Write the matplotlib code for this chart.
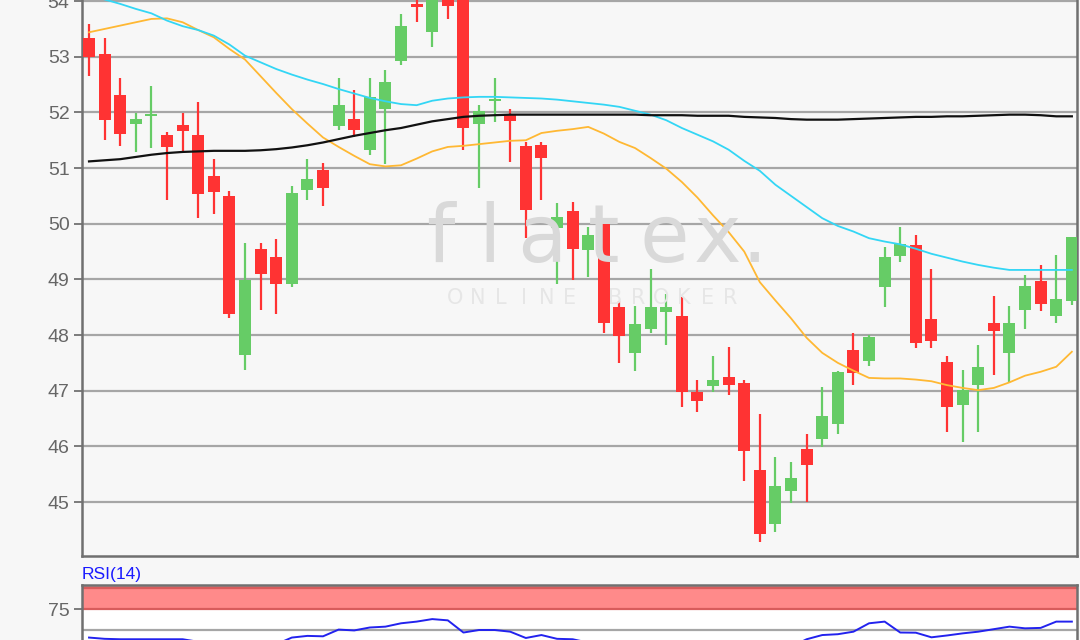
import matplotlib
matplotlib.use("Agg")
import matplotlib.pyplot as plt
import numpy as np

opens = [53.34, 53.05, 52.32, 51.80, 51.94, 51.60, 51.78, 51.60, 50.85, 50.49,
         47.65, 49.55, 49.41, 48.92, 50.61, 50.96, 51.76, 51.89, 51.33, 52.06,
         52.92, 53.95, 53.45, 54.05, 54.40, 51.80, 52.20, 51.98, 51.39, 51.42,
         49.92, 50.23, 49.52, 49.99, 48.50, 47.68, 48.11, 48.41, 48.35, 46.97,
         47.08, 47.24, 47.14, 45.57, 44.61, 45.20, 45.95, 46.13, 46.40, 47.74,
         47.54, 48.87, 49.42, 49.61, 48.28, 47.52, 46.75, 47.11, 48.21, 47.68,
         48.45, 48.97, 48.34, 48.62]
highs = [53.59, 53.34, 52.62, 51.99, 52.47, 51.65, 51.99, 52.18, 51.17, 50.59,
         49.65, 49.65, 49.73, 50.67, 51.17, 51.10, 52.61, 52.40, 52.61, 52.76,
         53.77, 54.10, 54.50, 54.30, 54.60, 52.14, 52.61, 52.07, 51.47, 51.46,
         50.38, 50.39, 49.94, 50.05, 48.61, 48.53, 49.18, 48.74, 48.68, 47.20,
         47.63, 47.78, 47.20, 46.59, 45.80, 45.72, 46.22, 47.06, 47.36, 48.03,
         48.00, 49.58, 49.94, 49.80, 49.18, 47.63, 47.38, 47.82, 48.71, 48.53,
         49.08, 49.26, 49.44, 49.76]
lows = [52.65, 51.50, 51.39, 51.29, 51.36, 50.43, 51.27, 50.10, 50.18, 48.30,
        47.37, 48.45, 48.38, 48.87, 50.43, 50.32, 51.69, 51.56, 51.23, 51.08,
        52.85, 53.63, 53.17, 53.67, 51.32, 50.64, 51.83, 51.11, 49.74, 50.43,
        48.92, 48.99, 49.05, 48.04, 47.50, 47.36, 48.04, 47.83, 46.70, 46.62,
        46.98, 46.92, 45.38, 44.29, 44.47, 44.98, 45.00, 45.98, 46.22, 47.11,
        47.44, 48.51, 49.31, 47.76, 47.76, 46.26, 46.08, 46.26, 47.29, 47.14,
        48.11, 48.44, 48.22, 48.54]
closes = [52.99, 51.87, 51.61, 51.89, 51.98, 51.37, 51.66, 50.54, 50.57, 48.38,
          48.99, 49.10, 48.92, 50.55, 50.81, 50.65, 52.14, 51.69, 52.28, 52.54,
          53.55, 53.89, 54.30, 53.92, 51.72, 52.02, 52.25, 51.85, 50.25, 51.19,
          50.12, 49.55, 49.80, 48.22, 47.98, 48.20, 48.50, 48.50, 46.97, 46.82,
          47.20, 47.11, 45.92, 44.43, 45.29, 45.44, 45.66, 46.55, 47.34, 47.32,
          47.97, 49.40, 49.64, 47.86, 47.90, 46.71, 47.02, 47.43, 48.08, 48.21,
          48.89, 48.55, 48.64, 49.76]

ma_orange = [53.44, 53.50, 53.56, 53.62, 53.68, 53.69, 53.62, 53.48, 53.35, 53.14,
             52.95, 52.65, 52.35, 52.06, 51.80, 51.55, 51.38, 51.22, 51.07, 51.03,
             51.05, 51.17, 51.30, 51.38, 51.40, 51.43, 51.46, 51.49, 51.50, 51.63,
             51.67, 51.70, 51.74, 51.62, 51.47, 51.36, 51.18, 50.99, 50.75, 50.47,
             50.15, 49.85, 49.50, 48.95, 48.62, 48.30, 47.95, 47.68, 47.50, 47.36,
             47.23, 47.22, 47.22, 47.20, 47.17, 47.10, 47.05, 47.01, 47.05, 47.15,
             47.27, 47.34, 47.43, 47.70]
ma_cyan = [54.12, 54.03, 53.95, 53.86, 53.78, 53.65, 53.55, 53.48, 53.38, 53.22,
           53.02, 52.90, 52.78, 52.68, 52.59, 52.51, 52.42, 52.34, 52.26, 52.20,
           52.15, 52.13, 52.21, 52.25, 52.27, 52.28, 52.28, 52.27, 52.26, 52.25,
           52.23, 52.20, 52.17, 52.14, 52.10, 52.03, 51.96, 51.86, 51.72, 51.60,
           51.48, 51.33, 51.13, 50.95, 50.70, 50.50, 50.30, 50.10, 49.96, 49.86,
           49.74, 49.68, 49.63, 49.55, 49.46, 49.39, 49.32, 49.26, 49.21, 49.17,
           49.17, 49.17, 49.17, 49.17]
ma_black = [51.12, 51.14, 51.16, 51.20, 51.24, 51.27, 51.29, 51.30, 51.31, 51.31,
            51.31, 51.32, 51.34, 51.37, 51.41, 51.46, 51.52, 51.58, 51.63, 51.68,
            51.72, 51.78, 51.84, 51.88, 51.92, 51.94, 51.95, 51.96, 51.96, 51.96,
            51.96, 51.96, 51.96, 51.96, 51.96, 51.96, 51.95, 51.95, 51.95, 51.94,
            51.94, 51.94, 51.92, 51.91, 51.90, 51.88, 51.87, 51.87, 51.87, 51.88,
            51.89, 51.90, 51.91, 51.92, 51.92, 51.93, 51.93, 51.94, 51.95, 51.96,
            51.96, 51.95, 51.93, 51.93]
rsi = [41.0, 39.5, 39.0, 39.0, 39.0, 39.0, 39.0, 36.0, 34.0, 28.0,
       33.0, 32.0, 33.0, 41.0, 43.0, 42.5, 50.5, 49.5, 53.0, 54.0,
       58.0, 60.0, 63.0, 61.5, 47.0, 50.0, 50.0, 48.0, 40.5, 44.0,
       39.5, 39.0, 35.0, 32.0, 34.0, 36.0, 36.0, 29.0, 28.0, 30.0,
       29.5, 25.0, 20.0, 27.0, 29.0, 30.0, 39.0, 44.0, 45.0, 48.0,
       58.0, 60.0, 47.0, 46.8, 41.3, 43.5, 46.0, 48.0, 51.0, 54.0,
       52.0, 52.5, 60.0, 60.0]
price_ticks = [45, 46, 47, 48, 49, 50, 51, 52, 53, 54]
rsi_ticks = [75]
logo_text = "flatex."
tagline = "ONLINE BROKER"

W, H = 1080, 640
fig = plt.figure(figsize=(W / 100, H / 100), dpi=100, facecolor="#f7f7f7")
plt.rcParams["font.family"] = ["Liberation Sans", "DejaVu Sans"]

# watermark (letters spread out like the logo)
logo_x = [440, 490, 542, 604, 664, 718, 754]
for ch, px in zip(logo_text, logo_x):
    fig.text(px / W, 1 - 262 / H, ch, fontsize=58, color="#d9d9d9",
             ha="center", va="baseline", family=["DejaVu Sans"], zorder=0)
tag_x = np.linspace(455, 730, len(tagline))
for ch, px in zip(tagline, tag_x):
    fig.text(px / W, 1 - 298 / H, ch, fontsize=15, color="#e6e6e6",
             ha="center", va="center", family=["DejaVu Sans"], zorder=0)

ax = fig.add_axes([82 / W, 1 - 556 / H, 995 / W, 556 / H])
ax.patch.set_alpha(0)
x = np.arange(len(opens))
ax.set_xlim(-0.45, 63.33)
ax.set_ylim(44.03, 54.02)
ax.set_yticks(price_ticks)
ax.set_xticks([])
ax.grid(axis="y", color="#a6a6a6", linewidth=1.6, zorder=1)
ax.tick_params(axis="y", colors="#666666", labelcolor="#666666", labelsize=14,
               length=6, width=1.2, pad=3)
for s in ["left", "bottom", "right"]:
    ax.spines[s].set_color("#707070")
    ax.spines[s].set_linewidth(1.8)
ax.spines["top"].set_visible(False)

red = "#ff3333"
green = "#66cc66"
body_w = 0.77
for i in x:
    o, h, l, c = opens[i], highs[i], lows[i], closes[i]
    col = green if c >= o else red
    ax.vlines(i, l, h, color=col, linewidth=1.6, zorder=3)
    lo, hi = min(o, c), max(o, c)
    ax.bar(i, max(hi - lo, 0.04), bottom=lo, width=body_w, color=col, zorder=4, linewidth=0)

ax.plot(x, ma_orange, color="#ffb833", linewidth=1.3, zorder=5)
ax.plot(x, ma_cyan, color="#33d6f5", linewidth=1.3, zorder=5)
ax.plot(x, ma_black, color="#111111", linewidth=1.6, zorder=5)

# RSI panel
ax2 = fig.add_axes([82 / W, 0, 995 / W, 55 / H])
ax2.set_xlim(-0.45, 63.33)
ax2.set_ylim(38.1, 103.6)
ax2.set_facecolor("white")
ax2.axhspan(75, 103.6, color="#ff8a8a", zorder=1, linewidth=0)
ax2.axhline(75, color="#d85c5c", linewidth=1.6, zorder=2)
ax2.axhline(100, color="#d85c5c", linewidth=1.6, zorder=2)
ax2.axhline(50, color="#a6a6a6", linewidth=1.6, zorder=2)
ax2.plot(x, rsi, color="#2222ee", linewidth=1.4, zorder=3)
ax2.set_yticks(rsi_ticks)
ax2.set_xticks([])
ax2.tick_params(axis="y", colors="#666666", labelcolor="#666666", labelsize=14,
                length=6, width=1.2, pad=3)
for s in ["left", "top", "right"]:
    ax2.spines[s].set_color("#707070")
    ax2.spines[s].set_linewidth(1.8)
ax2.spines["bottom"].set_visible(False)
fig.text(82 / W, 1 - 574 / H, "RSI(14)", color="#1a1aff", fontsize=12.5,
         ha="left", va="center")

fig.savefig("out.png", dpi=100, facecolor=fig.get_facecolor())
